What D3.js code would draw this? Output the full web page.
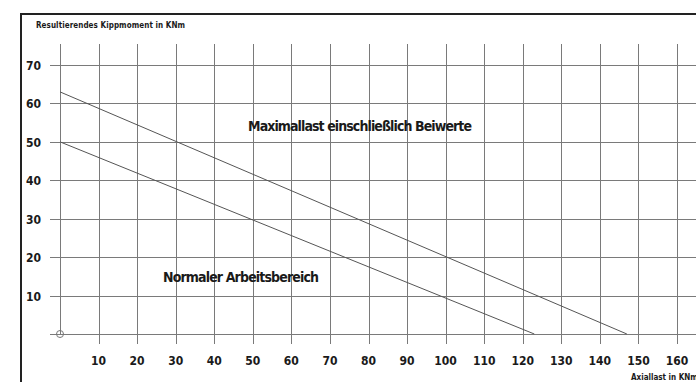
<!DOCTYPE html>
<html>
<head>
    <meta charset="utf-8" />
    <title>Kippmoment / Axiallast</title>
    <style>
        body { margin: 0; background: #fff; }
        .grid line { stroke: #7a7a7a; stroke-width: 1.3px; shape-rendering: crispEdges; }
        .curve { fill: none; stroke: #555; stroke-width: 1px; }
        text { font-family: "DejaVu Sans Condensed", "DejaVu Sans", sans-serif; font-weight: bold; fill: #1a1a1a; }
    </style>
    <script src="https://cdn.jsdelivr.net/npm/d3@7"></script>
</head>
<body>
    <script>
        // tick values
        const xTicks = [10, 20, 30, 40, 50, 60, 70, 80, 90, 100, 110, 120, 130, 140, 150, 160];
        const yTicks = [10, 20, 30, 40, 50, 60, 70];

        // line endpoints: [axial load, moment]
        const maxLast = [[0, 63], [147, 0]];
        const normal = [[0, 50], [123, 0]];

        const W = 696, H = 382;

        const x = d3.scaleLinear().domain([0, 160]).range([60, 677]);
        const y = d3.scaleLinear().domain([0, 70]).range([334, 65]);

        const svg = d3.select('body').append('svg')
            .attr('width', W)
            .attr('height', H);

        // outer frame (cut off at right/bottom like the drawing)
        svg.append('rect')
            .attr('x', 21).attr('y', 14)
            .attr('width', W).attr('height', H)
            .attr('fill', 'none')
            .attr('stroke', '#222')
            .attr('stroke-width', 2);

        const grid = svg.append('g').attr('class', 'grid');

        // horizontal grid lines incl. the zero line
        grid.selectAll('.h')
            .data([0].concat(yTicks))
            .enter().append('line')
            .attr('x1', 50).attr('x2', W)
            .attr('y1', d => Math.round(y(d)) + 0.5)
            .attr('y2', d => Math.round(y(d)) + 0.5);

        // vertical grid lines
        grid.selectAll('.v')
            .data(xTicks)
            .enter().append('line')
            .attr('x1', d => Math.round(x(d)) + 0.5)
            .attr('x2', d => Math.round(x(d)) + 0.5)
            .attr('y1', 44).attr('y2', 344);

        grid.append('line')
            .attr('x1', Math.round(x(0)) + 0.5).attr('x2', Math.round(x(0)) + 0.5)
            .attr('y1', 44).attr('y2', y(0));

        // origin marker
        svg.append('circle')
            .attr('cx', x(0)).attr('cy', y(0))
            .attr('r', 3.5)
            .attr('fill', 'none')
            .attr('stroke', '#777')
            .attr('stroke-width', 1);

        // tick labels
        svg.selectAll('.yl')
            .data(yTicks)
            .enter().append('text')
            .attr('x', 41)
            .attr('y', d => y(d) + 5)
            .attr('text-anchor', 'end')
            .style('font-size', '12px')
            .text(d => d);

        svg.selectAll('.xl')
            .data(xTicks)
            .enter().append('text')
            .attr('x', d => x(d))
            .attr('y', 365)
            .attr('text-anchor', 'middle')
            .style('font-size', '12px')
            .text(d => d);

        // the two limit lines
        const line = d3.line().x(d => x(d[0])).y(d => y(d[1]));
        svg.append('path').datum(maxLast).attr('class', 'curve').attr('d', line);
        svg.append('path').datum(normal).attr('class', 'curve').attr('d', line);

        // labels
        svg.append('text')
            .attr('x', 36).attr('y', 28)
            .attr('textLength', 149)
            .style('font-size', '8px')
            .text('Resultierendes Kippmoment in KNm');

        svg.append('text')
            .attr('x', 631).attr('y', 380)
            .style('font-size', '8px')
            .text('Axiallast in KNm');

        svg.append('text')
            .attr('x', 248).attr('y', 131)
            .attr('textLength', 224)
            .style('font-size', '14px')
            .text('Maximallast einschließlich Beiwerte');

        svg.append('text')
            .attr('x', 163).attr('y', 282)
            .attr('textLength', 156)
            .style('font-size', '14px')
            .text('Normaler Arbeitsbereich');
    </script>
</body>
</html>
